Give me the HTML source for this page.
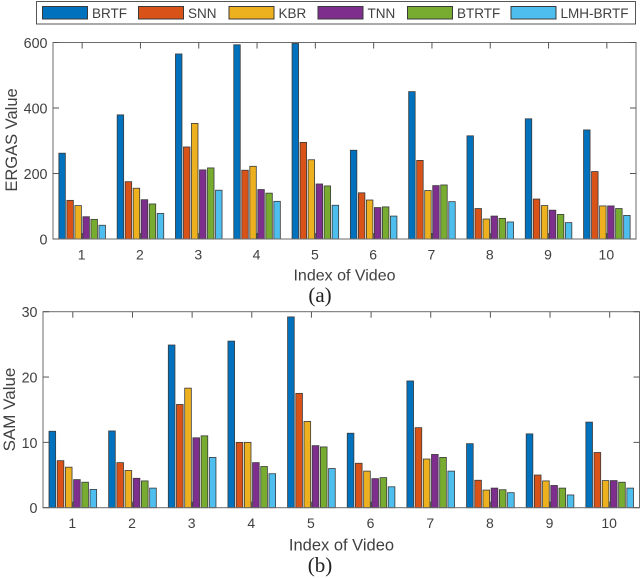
<!DOCTYPE html>
<html>
<head>
<meta charset="utf-8">
<style>
html,body{margin:0;padding:0;background:#fff;width:640px;height:578px;overflow:hidden}
svg{display:block;font-family:"Liberation Sans",sans-serif;filter:blur(0.35px)}
</style>
</head>
<body>
<svg id="root" xmlns="http://www.w3.org/2000/svg" width="640" height="578" viewBox="0 0 640 578"></svg>
<script>
const seriesNames = ['BRTF','SNN','KBR','TNN','BTRTF','LMH-BRTF'];
const seriesColors = ['#0072bd','#d95319','#edb120','#7e2f8e','#77ac30','#4dbeee'];
const categories = [1,2,3,4,5,6,7,8,9,10];
const ergasValues = [
  [262,379,565,593,597,271,450,315,367,333],
  [118,175,281,210,295,141,240,93,122,206],
  [102,155,353,222,242,119,148,61,102,101],
  [68,120,211,151,168,96,163,70,88,101],
  [60,107,217,140,162,98,165,63,75,93],
  [42,78,149,115,103,70,114,52,50,72]
];
const samValues = [
  [11.7,11.75,24.9,25.5,29.2,11.4,19.4,9.8,11.3,13.1],
  [7.2,6.9,15.8,10,17.5,6.8,12.25,4.2,5,8.45],
  [6.2,5.7,18.3,10,13.2,5.6,7.45,2.7,4.1,4.15],
  [4.3,4.5,10.7,6.9,9.5,4.45,8.15,3,3.4,4.15],
  [3.9,4.1,11,6.3,9.3,4.6,7.7,2.75,3,3.9],
  [2.8,3,7.7,5.2,6,3.2,5.6,2.3,1.95,3]
];
const ergasTicks = [0,200,400,600];
const samTicks = [0,10,20,30];

const svg = document.getElementById('root');
const NS = 'http://www.w3.org/2000/svg';
function mk(tag, attrs, parent, text){
  const el = document.createElementNS(NS, tag);
  for (const k in attrs) el.setAttribute(k, attrs[k]);
  if (text !== undefined) el.textContent = text;
  (parent || svg).appendChild(el);
  return el;
}

function drawChart(cfg, name, values, ticks){
  const g = mk('g', {});
  
  
  const xS = c => cfg.left + (c - 0.5) * (cfg.right - cfg.left) / categories.length;
  const yMax = ticks[ticks.length - 1];
  const yS = v => cfg.bottom - (v / yMax) * (cfg.bottom - cfg.top);
  const step = (cfg.right - cfg.left) / categories.length * 0.1375;
  const bw = step * 0.81;

  values.forEach((series, s) => {
    series.forEach((v, i) => {
      const cx = xS(categories[i]) + (s - 2.5) * step;
      const bar = mk('rect', {x: cx - bw / 2, y: yS(v), width: bw, height: cfg.bottom - yS(v),
        fill: seriesColors[s], stroke: '#3a3a3a', 'stroke-width': 0.8}, g);
      
      
    });
  });

  const box = mk('rect', {x: cfg.left, y: cfg.top, width: cfg.right - cfg.left, height: cfg.bottom - cfg.top,
    fill: 'none', stroke: '#6b6b6b', 'stroke-width': 1}, g);
  
  

  categories.forEach(c => {
    const x = xS(c);
    mk('line', {x1: x, x2: x, y1: cfg.top, y2: cfg.top + 6, stroke: '#555', 'stroke-width': 1}, g);
    mk('line', {x1: x, x2: x, y1: cfg.bottom, y2: cfg.bottom - 6, stroke: '#555', 'stroke-width': 1}, g);
    const t = mk('text', {x: x - 0.5, y: cfg.bottom + 20.5, 'text-anchor': 'middle', 'font-size': 14, fill: '#404040'}, g, String(c));
    
    
  });
  ticks.forEach(v => {
    const y = yS(v);
    mk('line', {x1: cfg.left, x2: cfg.left + 6, y1: y, y2: y, stroke: '#555', 'stroke-width': 1}, g);
    mk('line', {x1: cfg.right, x2: cfg.right - 6, y1: y, y2: y, stroke: '#555', 'stroke-width': 1}, g);
    const t = mk('text', {x: cfg.left - 5.5, y: y + 5.5, 'text-anchor': 'end', 'font-size': 14.3, fill: '#404040'}, g, String(v));
    
    
  });

  const xt = mk('text', {x: cfg.xTitleX, y: cfg.xTitleY, 'text-anchor': 'middle', 'font-size': cfg.xTitleSize, fill: '#404040'}, g, 'Index of Video');
  
  
  const yt = mk('text', {transform: 'translate(' + cfg.yTitleX + ',' + cfg.yTitleY + ') rotate(-90)', 'text-anchor': 'middle', 'font-size': cfg.yTitleSize, fill: '#404040'}, g, cfg.yTitle);
  
  
  const cap = mk('text', {x: 320, y: cfg.capY, 'text-anchor': 'middle', 'font-size': 21, fill: '#222', 'font-family': '"Liberation Serif",serif'}, g, cfg.cap);
  
  
}

drawChart({left:53,right:636,top:42.5,bottom:239,xTitleX:344.5,xTitleY:280.5,xTitleSize:16,yTitleX:17,yTitleY:140,yTitleSize:16.5,yTitle:'ERGAS Value',cap:'(a)',capY:302},
  'ergas-chart', ergasValues, ergasTicks);
drawChart({left:43,right:639.5,top:311.7,bottom:507.7,xTitleX:341.5,xTitleY:550.5,xTitleSize:16.5,yTitleX:15,yTitleY:409.5,yTitleSize:17,yTitle:'SAM Value',cap:'(b)',capY:572},
  'sam-chart', samValues, samTicks);

const legend = mk('g', {});


mk('rect', {x: 36.5, y: 1.5, width: 599, height: 22.5, fill: '#fff', stroke: '#555', 'stroke-width': 1}, legend);
const swatchStarts = [42.5, 138.5, 229, 318, 407.5, 511];
seriesNames.forEach((n, i) => {
  const sw = mk('rect', {x: swatchStarts[i], y: 6.5, width: 45, height: 12.5, fill: seriesColors[i], stroke: '#3a3a3a', 'stroke-width': 1}, legend);
  
  
  const t = mk('text', {x: swatchStarts[i] + 49.5, y: 18, 'font-size': 13.5, fill: '#404040'}, legend, n);
  
  
});
</script>
</body>
</html>
